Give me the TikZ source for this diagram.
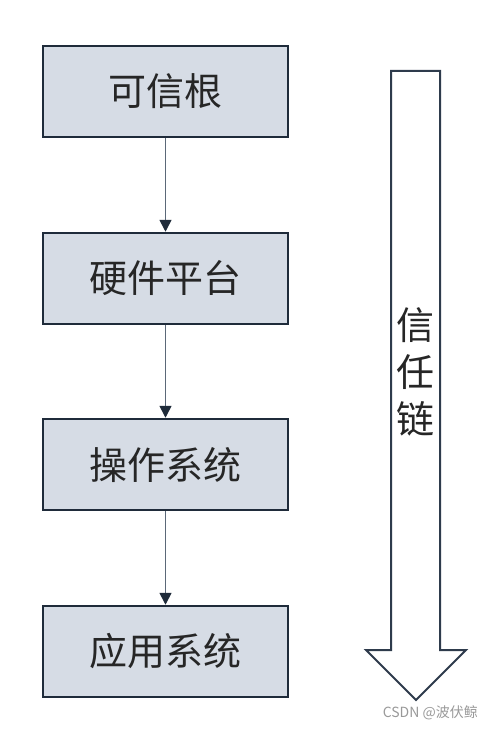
\documentclass[tikz,border=0pt]{standalone}
\usepackage{fontspec}
\setmainfont{Noto Sans CJK SC}
\newfontfamily\cjk{Noto Sans CJK SC}
\usetikzlibrary{arrows.meta}
\definecolor{boxfill}{HTML}{D6DCE5}
\definecolor{boxline}{HTML}{1F2B3A}
\definecolor{conn}{HTML}{5B6878}
\definecolor{txt}{HTML}{262626}
\definecolor{arrline}{HTML}{2E3B4C}
\tikzset{
  stepbox/.style={draw=boxline, fill=boxfill, line width=2.5pt, minimum width=245pt, minimum height=91pt, inner sep=0pt, font=\cjk\fontsize{38}{42}\selectfont, text=txt},
  conn/.style={draw=conn, line width=1.6pt, -{Triangle[width=12pt,length=12pt,color=boxline]}}
}
\begin{document}
\begin{tikzpicture}[x=1pt,y=-1pt]
\useasboundingbox (0,0) rectangle (492,730);
\node[stepbox] (a) at (165.5,91.5) {可信根};
\node[stepbox] (b) at (165.5,278.5) {硬件平台};
\node[stepbox] (c) at (165.5,464.5) {操作系统};
\node[stepbox] (d) at (165.5,651.5) {应用系统};
\draw[conn] (a.south) -- (b.north);
\draw[conn] (b.south) -- (c.north);
\draw[conn] (c.south) -- (d.north);
\draw[draw=arrline, line width=2pt, fill=white, line join=miter]
  (391,71) -- (440,71) -- (440,650) -- (466,650) -- (416,700) -- (366,650) -- (391,650) -- cycle;
\node[font=\cjk\fontsize{38}{47}\selectfont, text=txt, align=center, inner sep=0pt] (chain) at (415.5,372) {信\\任\\链};
\node[font=\cjk\fontsize{14}{16}\selectfont, text=gray!80, anchor=east, inner sep=0pt] (wm) at (478,713) {CSDN @波伏鲸};
\end{tikzpicture}
\end{document}
